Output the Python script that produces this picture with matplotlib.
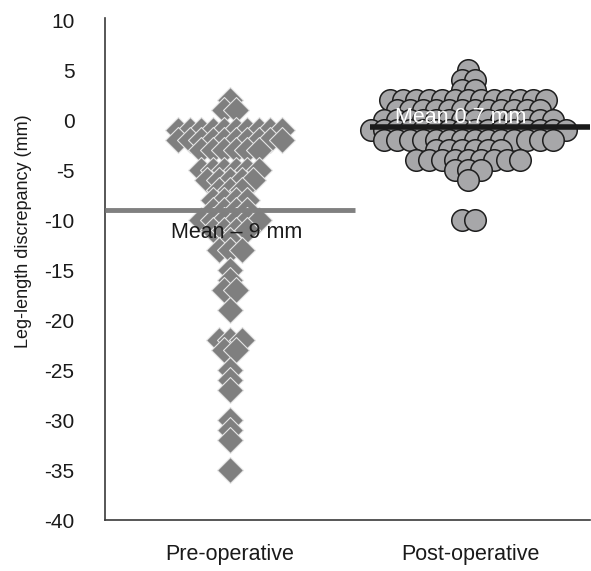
import matplotlib
matplotlib.use("Agg")
import matplotlib.pyplot as plt
import numpy as np

plt.rcParams['font.family'] = ['Liberation Sans', 'DejaVu Sans']

# ---- data ----
categories = ["Pre-operative", "Post-operative"]

pre_values = [2, 1, -1, -2, -3, -5, -6, -7, -8, -9, -10, -11, -12, -13,
              -15, -16, -17, -19, -22, -23, -25, -26, -27, -30, -31, -32, -35]
pre_counts = [1, 2, 10, 10, 6, 6, 5, 3, 4, 4, 6, 4, 1, 3,
              1, 1, 2, 1, 3, 2, 1, 1, 1, 1, 1, 1, 1]

post_values = [5, 4, 3, 2, 1, 0, -1, -2, -3, -4, -5, -6, -10]
post_counts = [1, 2, 2, 13, 12, 14, 16, 14, 6, 9, 3, 1, 2]

pre_mean = -9.0
post_mean = -0.7
pre_label = "Mean – 9 mm"
post_label = "Mean 0.7 mm"

yticks = list(range(-40, 11, 5))

# ---- figure ----
W, H = 591, 571
fig = plt.figure(figsize=(W / 100, H / 100), dpi=100)
ax = fig.add_axes([105 / W, (H - 520) / H, 485 / W, 502 / H])
ax.set_xlim(0, 4.85)
ax.set_ylim(-40, 10.2)

pre_x, post_x = 1.25, 3.63
pre_sp, post_sp = 0.115, 0.13

# pre-operative diamonds
for v, n in zip(pre_values, pre_counts):
    xs = pre_x + (np.arange(n) - (n - 1) / 2) * pre_sp
    ax.scatter(xs, [v] * n, marker='D', s=175, color='#7f7f7f',
               edgecolor='#e4e4e4', linewidth=0.8, zorder=3)

# post-operative circles
for v, n in zip(post_values, post_counts):
    xs = post_x + (np.arange(n) - (n - 1) / 2) * post_sp
    ax.scatter(xs, [v] * n, marker='o', s=240, color='#a7a7a9',
               edgecolor='#1e1e1e', linewidth=1.1, zorder=3)

# mean lines
ax.plot([0, 2.5], [pre_mean, pre_mean], color='#808080', lw=3.5,
        solid_capstyle='butt', zorder=4)
ax.plot([2.65, 4.85], [post_mean, post_mean], color='#1a1a1a', lw=4,
        solid_capstyle='butt', zorder=4)

ax.text(1.32, -11.3, pre_label, ha='center', va='center', fontsize=15.5,
        color='#1a1a1a', zorder=5)
ax.text(3.56, 0.25, post_label, ha='center', va='center', fontsize=15.5,
        color='white', zorder=5)

# axes styling
for s in ['top', 'right']:
    ax.spines[s].set_visible(False)
for s in ['left', 'bottom']:
    ax.spines[s].set_color('#3a3a3a')
    ax.spines[s].set_linewidth(1.2)

ax.set_yticks(yticks)
ax.set_yticklabels([str(t) for t in yticks])
ax.tick_params(axis='y', length=0, pad=22, labelsize=15, labelcolor='#1a1a1a')
ax.set_xticks([1.25, 3.65])
ax.set_xticklabels(categories)
ax.tick_params(axis='x', length=0, pad=17, labelsize=15.5, labelcolor='#1a1a1a')

ax.set_ylabel("Leg-length discrepancy (mm)", fontsize=13, color='#1a1a1a')
ax.yaxis.set_label_coords(-0.15, 0.576)

fig.savefig("out.png", dpi=100)
